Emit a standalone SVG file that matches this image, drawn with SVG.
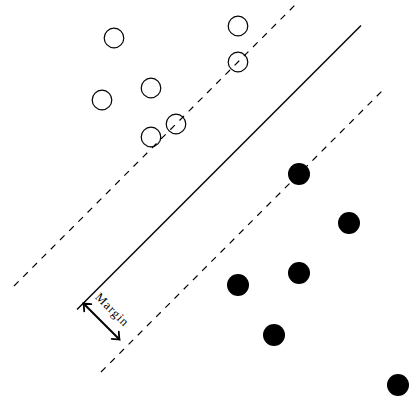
<svg xmlns="http://www.w3.org/2000/svg" width="409" height="403" viewBox="0 0 409 403">
<style>
.open{fill:none;stroke:#000;stroke-width:1.2}
.filled{fill:#000;stroke:none}
.solid{stroke:#000;stroke-width:1.4;fill:none}
.dashed{stroke:#000;stroke-width:1.2;fill:none;stroke-dasharray:6.5 6.5}
.arrow{stroke:#000;stroke-width:2;fill:none}
.lbl{font-family:"Liberation Serif","DejaVu Serif",serif;font-size:12.5px;letter-spacing:0.9px}
</style>
<defs>
<marker id="ah" markerUnits="userSpaceOnUse" viewBox="-8 -7 10 14" markerWidth="10" markerHeight="14" refX="0" refY="0" orient="auto-start-reverse">
<path d="M -6,-5 Q -1.5,-1 0,0 Q -1.5,1 -6,5" stroke="#000" stroke-width="1.8" fill="none" stroke-linecap="round"/>
</marker>
</defs>
<g id="connectors">
<line class="solid" x1="77" y1="309.5" x2="361" y2="25.5"/>
<line class="dashed" x1="14" y1="286" x2="297" y2="3"/>
<line class="dashed" x1="101" y1="372" x2="382" y2="91"/>
<line class="arrow" x1="83.5" y1="303.5" x2="119.5" y2="339.5" marker-start="url(#ah)" marker-end="url(#ah)"/>
</g>
<g id="label-margin">
<text class="lbl" x="111.5" y="310.5" text-anchor="middle" dominant-baseline="middle" transform="rotate(45 111.5 310.5)">Margin</text>
</g>
<g id="open-1"><circle class="open" cx="114" cy="38" r="9.8"/></g>
<g id="open-2"><circle class="open" cx="151" cy="88" r="9.8"/></g>
<g id="open-3"><circle class="open" cx="102" cy="100" r="9.8"/></g>
<g id="open-4"><circle class="open" cx="238" cy="26" r="9.8"/></g>
<g id="open-5"><circle class="open" cx="238" cy="62" r="9.8"/></g>
<g id="open-6"><circle class="open" cx="176" cy="124" r="9.8"/></g>
<g id="open-7"><circle class="open" cx="151" cy="137" r="9.8"/></g>
<g id="filled-1"><circle class="filled" cx="299" cy="174" r="11"/></g>
<g id="filled-2"><circle class="filled" cx="349" cy="223" r="11"/></g>
<g id="filled-3"><circle class="filled" cx="299" cy="273" r="11"/></g>
<g id="filled-4"><circle class="filled" cx="238" cy="285" r="11"/></g>
<g id="filled-5"><circle class="filled" cx="274" cy="335" r="11"/></g>
<g id="filled-6"><circle class="filled" cx="398" cy="385" r="11"/></g>
</svg>
